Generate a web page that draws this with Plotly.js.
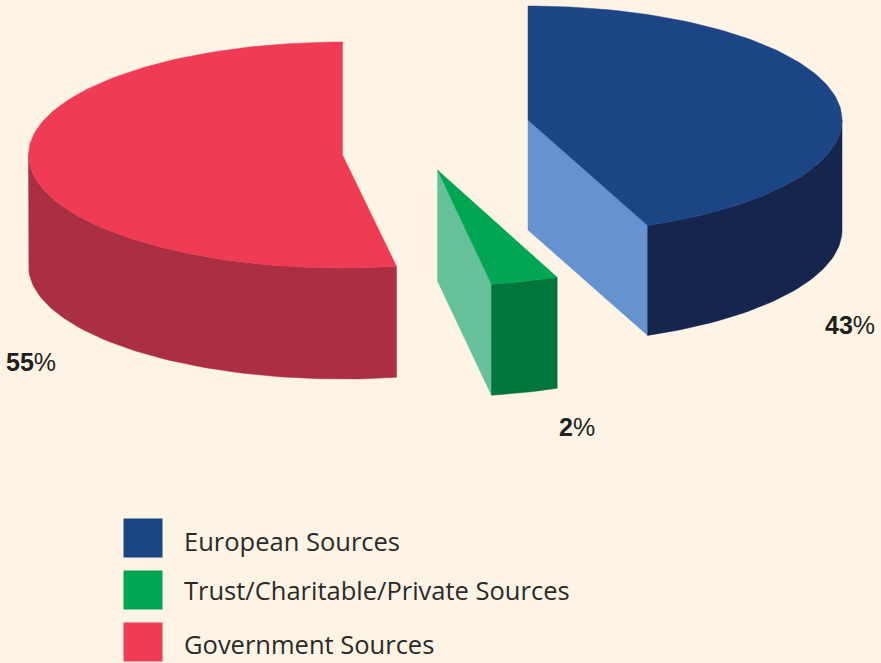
<!DOCTYPE html>
<html>
<head>
<meta charset="utf-8">
<script src="https://cdn.plot.ly/plotly-3.0.1.min.js"></script>
<style>html,body{margin:0;padding:0;background:#fef4e5;overflow:hidden}</style>
</head>
<body>
<div id="chart" style="width:881px;height:663px"></div>
<script>
// Data
const categories = ['European Sources', 'Trust/Charitable/Private Sources', 'Government Sources'];
const shares = [43, 2, 55];
// Angular extent of each slice as actually drawn in the picture (degrees)
const drawnSweeps = [157.6, 12.5, 189.9];

// Styles and 3D geometry
const topColors = ['#1c4585', '#00a651', '#ef3b53'];
const rimColors = ['#16254e', '#00753c', '#ab2f42'];
const cutColors = ['#6593cf', '#66c19b', '#ab2f42'];
const centreX = [528, 437.5, 342.5];
const centreY = [120, 170, 155];
const radiusX = 314;
const radiusY = [114, 116, 113];
const depth = [110, 111, 111];
const labelX = [850, 577, 31];
const labelY = [325, 427, 362];
const swatchX = 143;
const swatchY = [538, 590, 642];
const legendTextY = [541, 590, 644];

const rim = (i, deg) => {
  const a = deg * Math.PI / 180;
  return [centreX[i] + radiusX * Math.sin(a), centreY[i] - radiusY[i] * Math.cos(a)];
};
const arc = (i, a0, a1) => {
  const pts = [], n = Math.max(2, Math.ceil(Math.abs(a1 - a0) / 1.5));
  for (let k = 0; k <= n; k++) pts.push(rim(i, a0 + (a1 - a0) * k / n));
  return pts;
};
const poly = (pts, color) => ({
  type: 'scatter', mode: 'lines', fill: 'toself', fillcolor: color,
  x: pts.map(p => p[0]).concat(pts[0][0]), y: pts.map(p => p[1]).concat(pts[0][1]),
  line: {color: color, width: 0.5}, hoverinfo: 'skip', showlegend: false
});
const down = (pts, d) => pts.map(p => [p[0], p[1] + d]).reverse();

const traces = [];
let start = 0;
drawnSweeps.forEach((sweep, i) => {
  const end = start + sweep;
  const apex = [centreX[i], centreY[i]];
  // Cut face at the clockwise end of the slice, when it faces the viewer
  if (end < 180) {
    const p = rim(i, end);
    traces.push(poly([apex, p, [p[0], p[1] + depth[i]], [apex[0], apex[1] + depth[i]]], cutColors[i]));
  }
  // Side surface: the part of the arc facing the viewer (90..270 degrees)
  const a0 = Math.max(start, 90), a1 = Math.min(end, 270);
  if (a1 > a0) {
    const band = arc(i, a0, a1);
    traces.push(poly(band.concat(down(band, depth[i])), rimColors[i]));
  }
  // Top surface
  traces.push(poly([apex].concat(arc(i, start, end)), topColors[i]));
  start = end;
});

// Legend swatches
traces.push({
  type: 'scatter', mode: 'markers', x: categories.map(() => swatchX), y: swatchY,
  text: categories, hoverinfo: 'text', showlegend: false,
  marker: {symbol: 'square', size: 39, color: topColors, line: {width: 0}}
});

const annotations = [];
shares.forEach((v, i) => annotations.push({
  x: labelX[i], y: labelY[i], xref: 'x', yref: 'y', showarrow: false,
  text: '<b>' + v + '</b>%', xanchor: 'center', yanchor: 'middle',
  font: {family: 'Liberation Sans, Arial, sans-serif', size: 25, color: '#231f20'}
}));
categories.forEach((c, i) => annotations.push({
  x: 182, y: legendTextY[i], xref: 'x', yref: 'y', showarrow: false,
  text: c, xanchor: 'left', yanchor: 'middle',
  font: {family: 'Open Sans, Liberation Sans, sans-serif', size: 25.5, color: '#2b2a29'}
}));

const axis = {visible: false, fixedrange: true, showgrid: false, zeroline: false};
Plotly.newPlot('chart', traces, {
  width: 881, height: 663,
  margin: {l: 0, r: 0, t: 0, b: 0},
  paper_bgcolor: '#fef4e5', plot_bgcolor: '#fef4e5',
  xaxis: Object.assign({range: [0, 881]}, axis),
  yaxis: Object.assign({range: [663, 0]}, axis),
  annotations: annotations, showlegend: false
}, {displayModeBar: false, staticPlot: true});
</script>
</body>
</html>
